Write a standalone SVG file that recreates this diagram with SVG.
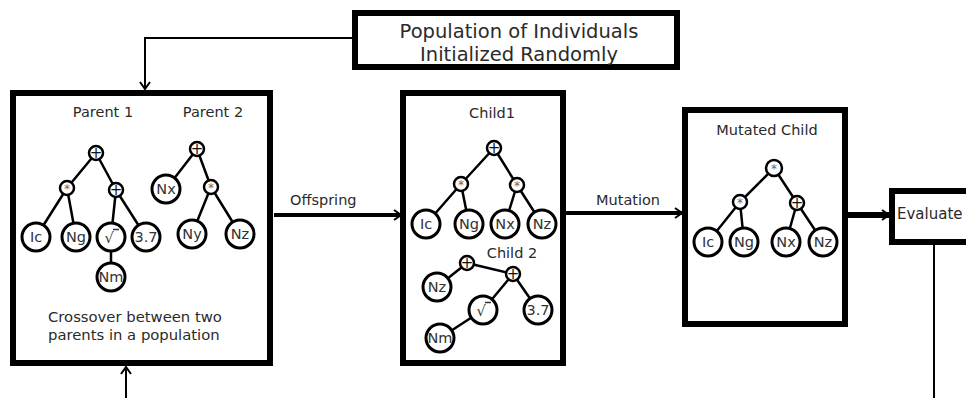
<svg xmlns="http://www.w3.org/2000/svg" width="966" height="398" viewBox="0 0 966 398">
<style>
.box{fill:#fff;stroke:#000;stroke-width:6}
.lbl{font-family:"DejaVu Sans",sans-serif;fill:#2a2a2a}
.e{stroke:#000;stroke-width:2.5;fill:none}
.op{fill:#fff;stroke:#000;stroke-width:2.5}
.lf{fill:#fff;stroke:#000;stroke-width:3}
.lt{font-family:"DejaVu Sans",sans-serif;font-size:14.5px;fill:#333;text-anchor:middle;dominant-baseline:central}
.ot{font-family:"DejaVu Sans",sans-serif;font-size:12px;fill:#666;text-anchor:middle;dominant-baseline:central}
.pt{font-family:"DejaVu Sans",sans-serif;font-size:15px;fill:#111;text-anchor:middle;dominant-baseline:central}
.c{fill:none;stroke:#000}
.rb{stroke:#333;stroke-width:1.5;fill:none}
</style>
<defs>
<marker id="ah" markerUnits="userSpaceOnUse" markerWidth="14" markerHeight="14" refX="11" refY="7" orient="auto">
<path d="M4,2 L11,7 L4,12" fill="none" stroke="#000" stroke-width="2"/>
</marker>
</defs>
<rect width="966" height="398" fill="#fff"/>
<g id="connectors">
<path class="c" d="M355,38 H145 V89" stroke-width="2" marker-end="url(#ah)"/>
<path class="c" d="M126,398 V367" stroke-width="2" marker-end="url(#ah)"/>
<path class="c" d="M274,215 H401" stroke-width="4" marker-end="url(#ah)"/>
<path class="c" d="M566,213 H682" stroke-width="4" marker-end="url(#ah)"/>
<path class="c" d="M847,215 H889" stroke-width="6" marker-end="url(#ah)"/>
<path class="c" d="M934,245 V398" stroke-width="2"/>
<text class="lbl" x="290" y="205" font-size="14.5">Offspring</text>
<text class="lbl" x="596" y="205" font-size="14.5">Mutation</text>
</g>
<g id="population">
<rect class="box" x="355" y="13" width="322" height="54" stroke-width="5"/>
<text class="lbl" x="519" y="38" font-size="19.5" text-anchor="middle">Population of Individuals</text>
<text class="lbl" x="519" y="61" font-size="19.5" text-anchor="middle">Initialized Randomly</text>
</g>
<g id="crossover">
<rect class="box" x="13" y="93" width="257" height="270"/>
<text class="lbl" x="103" y="117" font-size="14.5" text-anchor="middle">Parent 1</text>
<text class="lbl" x="213" y="117" font-size="14.5" text-anchor="middle">Parent 2</text>
<path class="e" d="M96,153 L67,188 M96,153 L116,190 M67,188 L36,237 M67,188 L76,237 M116,190 L111,237 M116,190 L146,237 M111,237 L111,277"/>
<path class="e" d="M197,149 L166,189 M197,149 L211,187 M211,187 L192,234 M211,187 L240,234"/>
<circle class="op" cx="96" cy="153" r="7"/><text class="pt" x="96" y="153">+</text>
<circle class="op" cx="67" cy="188" r="7"/><text class="ot" x="67" y="189">*</text>
<circle class="op" cx="116" cy="190" r="7"/><text class="pt" x="116" y="190">+</text>
<circle class="lf" cx="36" cy="237" r="14"/><text class="lt" x="36" y="237">Ic</text>
<circle class="lf" cx="76" cy="237" r="14"/><text class="lt" x="76" y="237">Ng</text>
<circle class="lf" cx="111" cy="237" r="14"/><text class="lt" x="109" y="238">√</text><path class="rb" d="M113,229.5 H119"/>
<circle class="lf" cx="146" cy="237" r="14"/><text class="lt" x="146" y="237">3.7</text>
<circle class="lf" cx="111" cy="277" r="14"/><text class="lt" x="111" y="277">Nm</text>
<circle class="op" cx="197" cy="149" r="7"/><text class="pt" x="197" y="149">+</text>
<circle class="lf" cx="166" cy="189" r="14"/><text class="lt" x="166" y="189">Nx</text>
<circle class="op" cx="211" cy="187" r="7"/><text class="ot" x="211" y="188">*</text>
<circle class="lf" cx="192" cy="234" r="14"/><text class="lt" x="192" y="234">Ny</text>
<circle class="lf" cx="240" cy="234" r="14"/><text class="lt" x="240" y="234">Nz</text>
<text class="lbl" x="48" y="322" font-size="14.8">Crossover between two</text>
<text class="lbl" x="48" y="340" font-size="14.8">parents in a population</text>
</g>
<g id="children">
<rect class="box" x="403" y="93" width="160" height="270"/>
<text class="lbl" x="492" y="118" font-size="14.5" text-anchor="middle">Child1</text>
<path class="e" d="M494,148 L461,184 M494,148 L517,185 M461,184 L426,224 M461,184 L469,224 M517,185 L505,224 M517,185 L542,224"/>
<circle class="op" cx="494" cy="148" r="7"/><text class="pt" x="494" y="148">+</text>
<circle class="op" cx="461" cy="184" r="7"/><text class="ot" x="461" y="185">*</text>
<circle class="op" cx="517" cy="185" r="7"/><text class="ot" x="517" y="186">*</text>
<circle class="lf" cx="426" cy="224" r="14"/><text class="lt" x="426" y="224">Ic</text>
<circle class="lf" cx="469" cy="224" r="14"/><text class="lt" x="469" y="224">Ng</text>
<circle class="lf" cx="505" cy="224" r="14"/><text class="lt" x="505" y="224">Nx</text>
<circle class="lf" cx="542" cy="224" r="14"/><text class="lt" x="542" y="224">Nz</text>
<text class="lbl" x="512" y="258" font-size="14.5" text-anchor="middle">Child 2</text>
<path class="e" d="M467,263 L437,287 M467,263 L513,274 M513,274 L483,310 M513,274 L538,310 M483,310 L440,338"/>
<circle class="op" cx="467" cy="263" r="7"/><text class="pt" x="467" y="263">+</text>
<circle class="op" cx="513" cy="274" r="7"/><text class="pt" x="513" y="274">+</text>
<circle class="lf" cx="437" cy="287" r="14"/><text class="lt" x="437" y="287">Nz</text>
<circle class="lf" cx="483" cy="310" r="14"/><text class="lt" x="481" y="311">√</text><path class="rb" d="M485,302.5 H491"/>
<circle class="lf" cx="538" cy="310" r="14"/><text class="lt" x="538" y="310">3.7</text>
<circle class="lf" cx="440" cy="338" r="14"/><text class="lt" x="440" y="338">Nm</text>
</g>
<g id="mutated">
<rect class="box" x="685" y="110" width="160" height="214"/>
<text class="lbl" x="767" y="135" font-size="14.5" text-anchor="middle">Mutated Child</text>
<path class="e" d="M774,168 L740,202 M774,168 L797,203 M740,202 L708,242 M740,202 L744,242 M797,203 L786,242 M797,203 L823,242"/>
<circle class="op" cx="774" cy="168" r="8"/><text class="ot" x="774" y="169" font-size="15">*</text>
<circle class="op" cx="740" cy="202" r="7"/><text class="ot" x="740" y="203">*</text>
<circle class="op" cx="797" cy="203" r="7"/><text class="pt" x="797" y="203">+</text>
<circle class="lf" cx="708" cy="242" r="14"/><text class="lt" x="708" y="242">Ic</text>
<circle class="lf" cx="744" cy="242" r="14"/><text class="lt" x="744" y="242">Ng</text>
<circle class="lf" cx="786" cy="242" r="14"/><text class="lt" x="786" y="242">Nx</text>
<circle class="lf" cx="823" cy="242" r="14"/><text class="lt" x="823" y="242">Nz</text>
</g>
<g id="evaluate">
<rect class="box" x="892" y="191" width="100" height="51"/>
<text class="lbl" x="897" y="219" font-size="15">Evaluate</text>
</g>
</svg>
